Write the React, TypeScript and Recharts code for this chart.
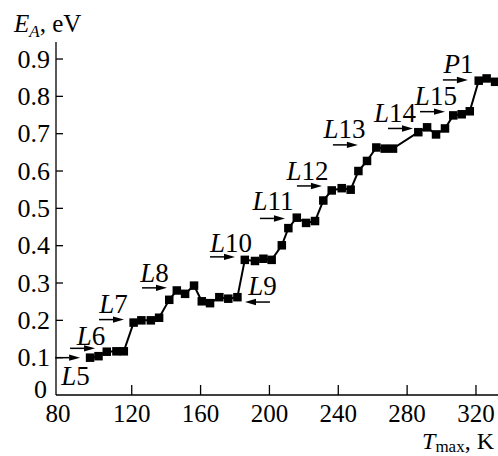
import React from 'react';
import { LineChart, Line, XAxis, YAxis, ReferenceDot, Label } from 'recharts';

// T_max (K) and activation energy E_A (eV)
const temperatures = [
  95.8, 100.7, 105.5, 111.1, 115.4, 121.1, 125.6, 131.1, 135.9, 141.8, 146.2, 151.0,
  156.2, 160.7, 165.5, 170.9, 176.1, 181.4, 185.7, 191.6, 196.5, 201.3, 207.2, 211.0,
  215.9, 221.3, 226.5, 231.3, 236.2, 242.0, 247.2, 251.7, 256.7, 262.1, 267.0, 271.8,
  286.5, 291.6, 296.8, 302.0, 306.8, 311.7, 316.4, 321.6, 326.2, 331.1,
];
const energies = [
  0.100, 0.104, 0.116, 0.117, 0.117, 0.194, 0.200, 0.200, 0.207, 0.255, 0.280, 0.271,
  0.293, 0.251, 0.246, 0.262, 0.258, 0.262, 0.362, 0.359, 0.365, 0.362, 0.401, 0.447,
  0.475, 0.461, 0.466, 0.521, 0.548, 0.554, 0.550, 0.600, 0.627, 0.663, 0.660, 0.660,
  0.704, 0.717, 0.698, 0.714, 0.749, 0.752, 0.760, 0.842, 0.848, 0.839,
];

const xTicks = [80, 120, 160, 200, 240, 280, 320];
const yTicks = [0, 0.1, 0.2, 0.3, 0.4, 0.5, 0.6, 0.7, 0.8, 0.9];

// annotations: arrow tip (T, E), arrow direction, label anchor (T, E)
const annLabels = ['L5', 'L6', 'L7', 'L8', 'L9', 'L10', 'L11', 'L12', 'L13', 'L14', 'L15', 'P1'];
const annTipT = [90.0, 98.7, 115.5, 140.5, 185.8, 180.0, 209.0, 230.5, 251.4, 283.4, 302.0, 315.3];
const annTipE = [0.100, 0.125, 0.202, 0.287, 0.249, 0.370, 0.473, 0.560, 0.670, 0.714, 0.759, 0.844];
const annDir = ['right', 'right', 'right', 'right', 'left', 'right', 'right', 'right', 'right', 'right', 'right', 'right'];
const annLabelT = [87.3, 96.3, 109.4, 133.2, 196.0, 177.7, 202.1, 222.1, 243.6, 272.9, 296.7, 309.8];
const annLabelE = [0.027, 0.134, 0.220, 0.303, 0.268, 0.383, 0.496, 0.576, 0.688, 0.731, 0.777, 0.863];

const data = temperatures.map((t, i) => ({ T: t, E: energies[i] }));

const FONT = "'Liberation Serif', 'Times New Roman', 'DejaVu Serif', serif";
const txt: React.CSSProperties = { fontFamily: FONT };

const SquareDot = (props: any) => {
  const { cx, cy } = props;
  if (cx == null || cy == null) return null;
  return <rect x={cx - 4.25} y={cy - 4.25} width={8.5} height={8.5} fill="#000" />;
};

const XTick = (props: any) => {
  const { x, y, payload } = props;
  const v = payload.value;
  const shift = v === 80 ? -5 : 0;
  return (
    <g>
      {v !== 80 && <line x1={x} x2={x} y1={y} y2={y - 10} stroke="#000" strokeWidth={1.3} />}
      <text x={x + shift} y={y + 27} textAnchor="middle" style={{ ...txt, fontSize: 25 }} fill="#000">
        {v}
      </text>
    </g>
  );
};

const YTick = (props: any) => {
  const { x, y, payload } = props;
  const v = payload.value;
  const isZero = v === 0;
  return (
    <g>
      {!isZero && <line x1={x} x2={x + 7} y1={y} y2={y} stroke="#000" strokeWidth={1.3} />}
      <text
        x={isZero ? x - 9 : x - 6}
        y={isZero ? y + 3 : y + 8.5}
        textAnchor="end"
        style={{ ...txt, fontSize: 26 }}
        fill="#000"
      >
        {isZero ? '0' : v.toFixed(1)}
      </text>
    </g>
  );
};

const makeArrow = (dir: string) => (props: any) => {
  const { cx, cy } = props;
  if (cx == null || cy == null) return null;
  const s = dir === 'right' ? 1 : -1;
  const len = 25;
  const head = 11;
  return (
    <g>
      <line x1={cx - s * len} y1={cy} x2={cx - s * head} y2={cy} stroke="#000" strokeWidth={1.5} />
      <polygon points={`${cx},${cy} ${cx - s * head},${cy - 3.2} ${cx - s * head},${cy + 3.2}`} fill="#000" />
    </g>
  );
};

const makeLabel = (label: string) => (props: any) => {
  const { cx, cy } = props;
  if (cx == null || cy == null) return null;
  return (
    <text x={cx} y={cy} textAnchor="middle" style={{ ...txt, fontSize: 27 }} fill="#000">
      <tspan style={{ fontStyle: 'italic' }}>{label.charAt(0)}</tspan>
      <tspan>{label.slice(1)}</tspan>
    </text>
  );
};

const YTitle = (props: any) => {
  const vb = props.viewBox || { x: 0, y: 42 };
  return (
    <text x={vb.x + 14} y={vb.y - 10} style={{ ...txt, fontSize: 25 }} fill="#000">
      <tspan style={{ fontStyle: 'italic' }}>E</tspan>
      <tspan style={{ fontStyle: 'italic', fontSize: 17 }} dy={5}>A</tspan>
      <tspan dy={-5}>, eV</tspan>
    </text>
  );
};

const XTitle = (props: any) => {
  const vb = props.viewBox || { x: 56, y: 395, width: 442 };
  return (
    <text x={vb.x + vb.width - 4} y={vb.y + 54} textAnchor="end" style={{ ...txt, fontSize: 24 }} fill="#000">
      <tspan style={{ fontStyle: 'italic' }}>T</tspan>
      <tspan style={{ fontSize: 17 }} dy={3}>max</tspan>
      <tspan dy={-3}>, K</tspan>
    </text>
  );
};

export default function App() {
  return (
    <div style={{ position: 'absolute', left: 0, top: 0, background: '#fff' }}>
      <LineChart width={498} height={456} data={data} margin={{ top: 42, right: 0, left: 0, bottom: 0 }}>
        <XAxis
          type="number"
          dataKey="T"
          domain={[76, 332.8]}
          ticks={xTicks}
          allowDataOverflow
          tickLine={false}
          tickSize={0}
          tickMargin={0}
          height={61}
          axisLine={{ stroke: '#000', strokeWidth: 1.3 }}
          tick={<XTick />}
          interval={0}
        >
          <Label content={<XTitle />} />
        </XAxis>
        <YAxis
          type="number"
          dataKey="E"
          domain={[0, 0.9456]}
          ticks={yTicks}
          allowDataOverflow
          tickLine={false}
          tickSize={0}
          tickMargin={0}
          width={56}
          axisLine={{ stroke: '#000', strokeWidth: 1.3 }}
          tick={<YTick />}
          interval={0}
        >
          <Label content={<YTitle />} />
        </YAxis>
        <Line
          type="linear"
          dataKey="E"
          stroke="#000"
          strokeWidth={2}
          dot={<SquareDot />}
          activeDot={false}
          isAnimationActive={false}
        />
        {annLabels.map((lab, i) => (
          <ReferenceDot
            key={'a' + lab}
            x={annTipT[i]}
            y={annTipE[i]}
            ifOverflow="visible"
            shape={makeArrow(annDir[i])}
          />
        ))}
        {annLabels.map((lab, i) => (
          <ReferenceDot
            key={'l' + lab}
            x={annLabelT[i]}
            y={annLabelE[i]}
            ifOverflow="visible"
            shape={makeLabel(lab)}
          />
        ))}
      </LineChart>
    </div>
  );
}
